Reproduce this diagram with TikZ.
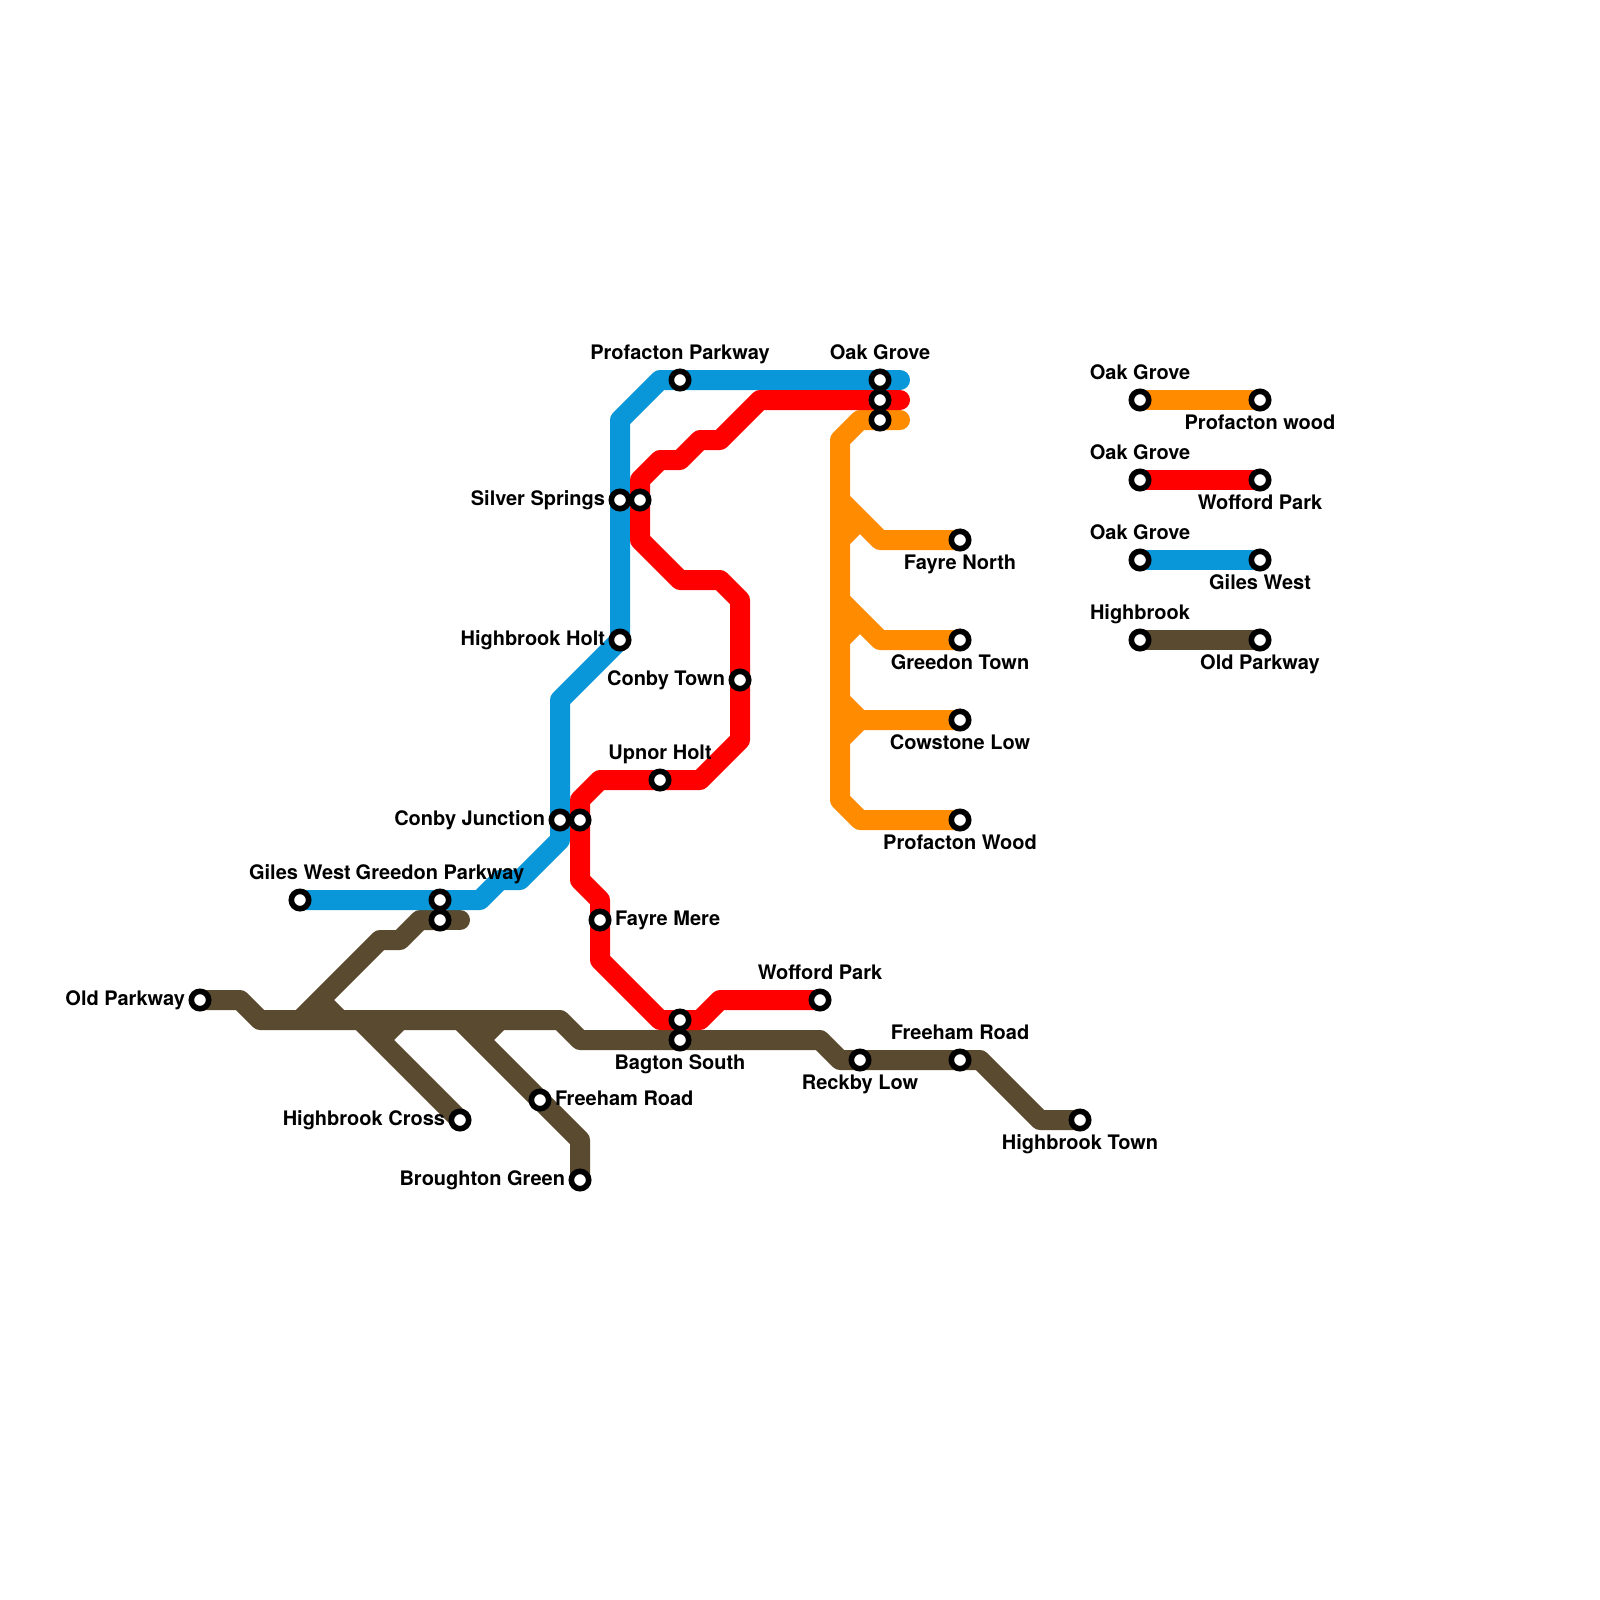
\documentclass[tikz,border=0pt]{standalone}
\usepackage{fontspec}
\setmainfont{TeX Gyre Heros}
\pgfdeclarelayer{lines}
\pgfsetlayers{lines,main}
\definecolor{lblue}{HTML}{0A97D9}
\definecolor{lred}{HTML}{FF0000}
\definecolor{lorange}{HTML}{FF8C00}
\definecolor{lbrown}{HTML}{5A4A30}
\tikzset{
  stn/.style={circle,draw=black,fill=white,line width=5.6pt,minimum size=17.4pt,inner sep=0pt},
  lab/.style={font=\fontsize{20}{22}\selectfont\bfseries,text=black,inner sep=0pt,outer sep=0pt},
  above lab/.style={lab,anchor=base,yshift=-0.8pt},
  left lab/.style={lab,anchor=base east},
  right lab/.style={lab,anchor=base west},
  metro/.style={line width=20pt,line join=round,line cap=round},
  stub/.style={line width=20pt,line join=round,line cap=butt}
}
\begin{document}
\begin{tikzpicture}[x=1pt,y=-1pt]
\useasboundingbox (0,0) rectangle (1600,1600);
% stations: blue
\node[stn] (gilesW) at (300,900) {};
\node[stn] (greedonP) at (440,900) {};
\node[stn] (conbyJb) at (560,820) {};
\node[stn] (hbHolt) at (620,640) {};
\node[stn] (silverB) at (620,500) {};
\node[stn] (profP) at (680,380) {};
\node[stn] (oakB) at (880,380) {};
% stations: red
\node[stn] (oakR) at (880,400) {};
\node[stn] (silverR) at (640,500) {};
\node[stn] (conbyT) at (740,680) {};
\node[stn] (upnor) at (660,780) {};
\node[stn] (conbyJr) at (580,820) {};
\node[stn] (fayreM) at (600,920) {};
\node[stn] (bagtonR) at (680,1020) {};
\node[stn] (woffordP) at (820,1000) {};
% stations: orange
\node[stn] (oakO) at (880,420) {};
\node[stn] (fayreN) at (960,540) {};
\node[stn] (greedonT) at (960,640) {};
\node[stn] (cowstone) at (960,720) {};
\node[stn] (profW) at (960,820) {};
% stations: brown
\node[stn] (oldP) at (200,1000) {};
\node[stn] (greedonB) at (440,920) {};
\node[stn] (hbCross) at (460,1120) {};
\node[stn] (freehamS) at (540,1100) {};
\node[stn] (broughton) at (580,1180) {};
\node[stn] (bagtonB) at (680,1040) {};
\node[stn] (reckby) at (860,1060) {};
\node[stn] (freehamR) at (960,1060) {};
\node[stn] (hbTown) at (1080,1120) {};
% legend stations
\node[stn] (k1a) at (1140,400) {};
\node[stn] (k1b) at (1260,400) {};
\node[stn] (k2a) at (1140,480) {};
\node[stn] (k2b) at (1260,480) {};
\node[stn] (k3a) at (1140,560) {};
\node[stn] (k3b) at (1260,560) {};
\node[stn] (k4a) at (1140,640) {};
\node[stn] (k4b) at (1260,640) {};
% free ends
\coordinate (endB) at (900,380);
\coordinate (endR) at (900,400);
\coordinate (endO) at (900,420);
\coordinate (endG) at (460,920);
\begin{pgfonlayer}{lines}
\fill[white] (0,0) rectangle (1600,1600);
% brown
\draw[metro,lbrown] (oldP.center) -- (240,1000) -- (260,1020) -- (560,1020) -- (580,1040) -- (820,1040) -- (840,1060) -- (980,1060) -- (1040,1120) -- (hbTown.center);
\draw[stub,lbrown] (300,1020) -- (380,940) -- (400,940) -- (420,920) -- (greedonB.center);
\draw[metro,lbrown] (greedonB.center) -- (endG);
\draw[stub,lbrown] (320,1000) -- (340,1020);
\draw[stub,lbrown] (360,1020) -- (hbCross.center);
\draw[stub,lbrown] (380,1040) -- (400,1020);
\draw[stub,lbrown] (460,1020) -- (580,1140) -- (broughton.center);
\draw[stub,lbrown] (480,1040) -- (500,1020);
% orange
\draw[metro,lorange] (endO) -- (860,420) -- (840,440) -- (840,800) -- (860,820) -- (profW.center);
\draw[stub,lorange] (840,500) -- (880,540) -- (fayreN.center);
\draw[stub,lorange] (840,540) -- (860,520);
\draw[stub,lorange] (840,600) -- (880,640) -- (greedonT.center);
\draw[stub,lorange] (840,640) -- (860,620);
\draw[stub,lorange] (840,700) -- (860,720) -- (cowstone.center);
\draw[stub,lorange] (840,740) -- (860,720);
% blue
\draw[metro,lblue] (gilesW.center) -- (480,900) -- (500,880) -- (520,880) -- (560,840) -- (560,700) -- (620,640) -- (620,420) -- (660,380) -- (endB);
% red
\draw[metro,lred] (endR) -- (760,400) -- (720,440) -- (700,440) -- (680,460) -- (660,460) -- (640,480) -- (640,540) -- (680,580) -- (720,580) -- (740,600) -- (740,740) -- (700,780) -- (600,780) -- (580,800) -- (580,880) -- (600,900) -- (600,960) -- (660,1020) -- (700,1020) -- (720,1000) -- (woffordP.center);
% legend
\draw[metro,lorange] (k1a.center) -- (k1b.center);
\draw[metro,lred] (k2a.center) -- (k2b.center);
\draw[metro,lblue] (k3a.center) -- (k3b.center);
\draw[metro,lbrown] (k4a.center) -- (k4b.center);
\end{pgfonlayer}
% labels
\node[above lab] (tProfP) at (680,359) {Profacton Parkway};
\node[above lab] (tOak) at (880,359) {Oak Grove};
\node[left lab] (tSilver) at (605,505) {Silver Springs};
\node[left lab] (tHbHolt) at (605,645) {Highbrook Holt};
\node[left lab] (tConbyT) at (725,685) {Conby Town};
\node[above lab] (tUpnor) at (660,759) {Upnor Holt};
\node[left lab] (tConbyJ) at (545,825) {Conby Junction};
\node[above lab] (tGiles) at (300,879) {Giles West};
\node[above lab] (tGreedonP) at (440,879) {Greedon Parkway};
\node[right lab] (tFayreM) at (615,925) {Fayre Mere};
\node[above lab] (tWofford) at (820,979) {Wofford Park};
\node[left lab] (tOldP) at (185,1005) {Old Parkway};
\node[above lab] (tBagton) at (680,1069) {Bagton South};
\node[above lab] (tReckby) at (860,1089) {Reckby Low};
\node[above lab] (tFreehamR) at (960,1039) {Freeham Road};
\node[right lab] (tFreehamS) at (555,1105) {Freeham Road};
\node[left lab] (tHbCross) at (445,1125) {Highbrook Cross};
\node[left lab] (tBroughton) at (565,1185) {Broughton Green};
\node[above lab] (tHbTown) at (1080,1149) {Highbrook Town};
\node[above lab] (tFayreN) at (960,569) {Fayre North};
\node[above lab] (tGreedonT) at (960,669) {Greedon Town};
\node[above lab] (tCowstone) at (960,749) {Cowstone Low};
\node[above lab] (tProfW) at (960,849) {Profacton Wood};
% legend labels
\node[above lab] (tk1a) at (1140,379) {Oak Grove};
\node[above lab] (tk1b) at (1260,429) {Profacton wood};
\node[above lab] (tk2a) at (1140,459) {Oak Grove};
\node[above lab] (tk2b) at (1260,509) {Wofford Park};
\node[above lab] (tk3a) at (1140,539) {Oak Grove};
\node[above lab] (tk3b) at (1260,589) {Giles West};
\node[above lab] (tk4a) at (1140,619) {Highbrook};
\node[above lab] (tk4b) at (1260,669) {Old Parkway};
\end{tikzpicture}
\end{document}
